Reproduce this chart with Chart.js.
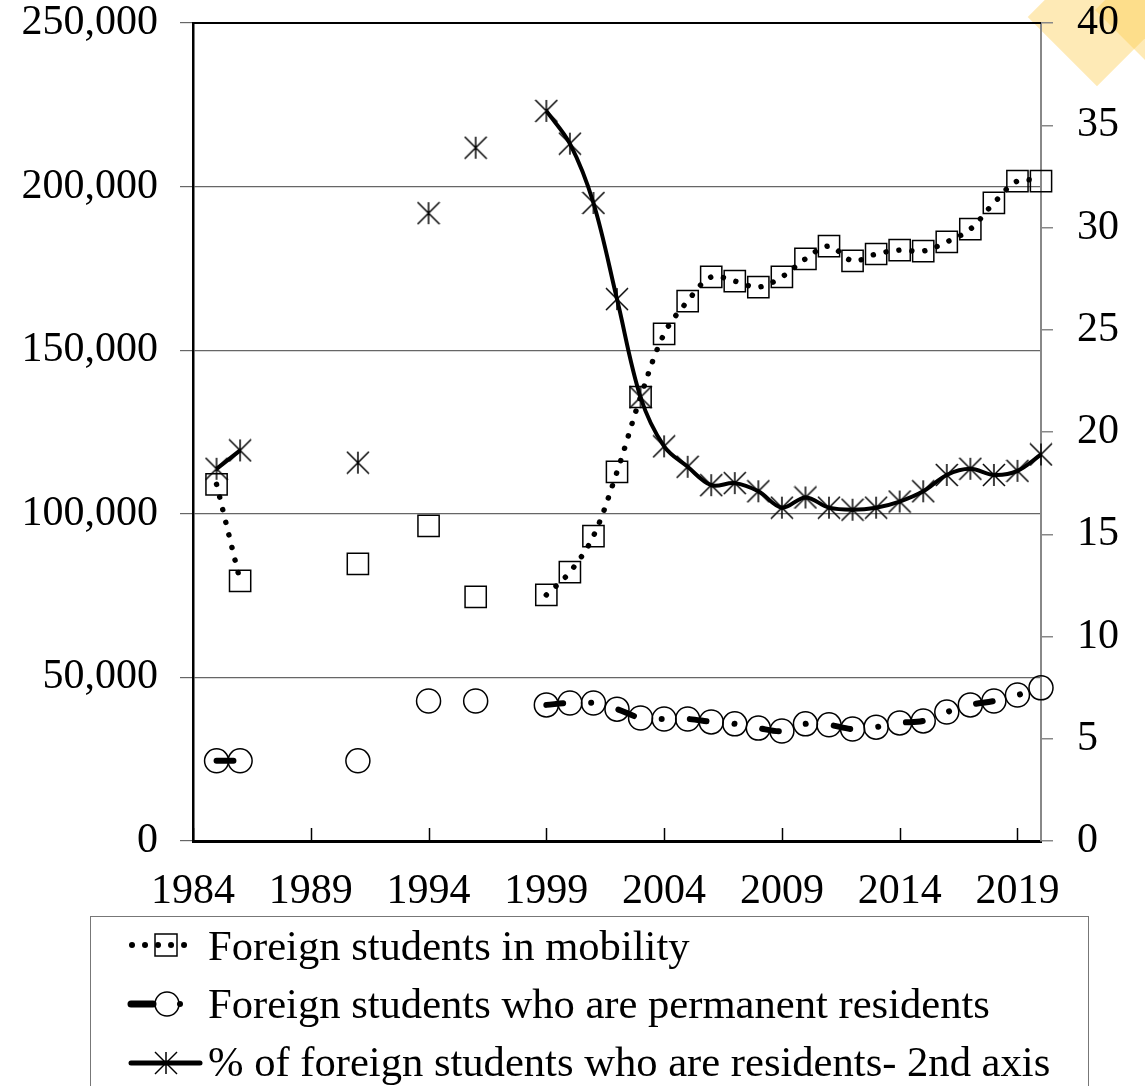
<!DOCTYPE html>
<html>
<head>
<meta charset="utf-8">
<script src="https://cdn.jsdelivr.net/npm/chart.js@4.4.0/dist/chart.umd.min.js"></script>
<style>
  body { margin: 0; background: #fff; width: 1145px; height: 1086px; overflow: hidden; position: relative;
         font-family: 'Liberation Serif', 'Times New Roman', serif; }
  .deco { position: absolute; background: rgba(253, 204, 80, 0.42); transform: rotate(45deg); z-index: 0; }
  #wrap { position: absolute; left: 0; top: 0; width: 1145px; height: 916px; z-index: 1; }
  #legend { position: absolute; left: 90px; top: 916px; width: 999px; height: 200px; border: 1.5px solid #777;
            box-sizing: border-box; z-index: 1; }
  .lg { position: absolute; left: 208px; font-size: 42.6px; line-height: 42px; white-space: nowrap; color: #000; z-index: 2; }
  #sym { position: absolute; left: 0; top: 0; z-index: 2; }
</style>
</head>
<body>
<div class="deco" style="left:1048px;top:-32px;width:98px;height:98px;"></div>
<div class="deco" style="left:1117px;top:-43px;width:106px;height:106px;"></div>
<div id="wrap"><canvas id="chart" width="1145" height="916"></canvas></div>
<div id="legend"></div>
<svg id="sym" width="1145" height="1086">
  <line x1="132" y1="945" x2="190" y2="945" stroke="#000" stroke-width="6" stroke-linecap="round" stroke-dasharray="0.01 13"/>
  <rect x="155" y="934" width="22" height="22" fill="none" stroke="#000" stroke-width="1.5"/>
  <line x1="131" y1="1004" x2="153" y2="1004" stroke="#000" stroke-width="7" stroke-linecap="round"/>
  <circle cx="167" cy="1004" r="12" fill="none" stroke="#000" stroke-width="1.5"/>
  <circle cx="180" cy="1004" r="3" fill="#000"/>
  <line x1="131" y1="1063" x2="200" y2="1063" stroke="#000" stroke-width="5" stroke-linecap="round"/>
  <g stroke="#000" stroke-width="1.5">
    <line x1="166" y1="1052" x2="166" y2="1074"/>
    <line x1="155" y1="1052" x2="177" y2="1074"/>
    <line x1="177" y1="1052" x2="155" y2="1074"/>
  </g>
</svg>
<div class="lg" style="top:925px;">Foreign students in mobility</div>
<div class="lg" style="top:983px;">Foreign students who are permanent residents</div>
<div class="lg" style="top:1041px;">% of foreign students who are residents- 2nd axis</div>
<script>
// data
const years = [1985, 1986, 1991, 1994, 1996,
  1999, 2000, 2001, 2002, 2003, 2004, 2005, 2006, 2007, 2008, 2009,
  2010, 2011, 2012, 2013, 2014, 2015, 2016, 2017, 2018, 2019, 2020];
const mobility = [109000, 79500, 84700, 96300, 74600,
  75200, 82200, 93200, 112800, 135700, 155000, 165000, 172400, 171100, 169300, 172400,
  177900, 181800, 177300, 179400, 180600, 180300, 183100, 187000, 195000, 201700, 201700];
const residents = [24500, 24500, 24500, 42800, 42800,
  41600, 42200, 42200, 40300, 37600, 37300, 37300, 36400, 35800, 34500, 33600,
  35800, 35500, 34200, 34800, 36100, 36700, 39400, 41600, 42800, 44600, 46800];
const residentShare = [18.2, 19.1, 18.5, 30.7, 33.9,
  35.7, 34.1, 31.2, 26.5, 21.7, 19.3, 18.3, 17.4, 17.5, 17.1, 16.3,
  16.8, 16.3, 16.2, 16.3, 16.6, 17.1, 17.9, 18.2, 17.9, 18.1, 18.9];
const xTicks = [1984, 1989, 1994, 1999, 2004, 2009, 2014, 2019];
const leftTicks = [0, 50000, 100000, 150000, 200000, 250000];
const rightTicks = [0, 5, 10, 15, 20, 25, 30, 35, 40];

const FONT = { family: "'Liberation Serif', 'Times New Roman', serif", size: 42, lineHeight: 1.1 };

// years with a hole before them break the line (isolated points stay unconnected)
function withGaps(values) {
  const out = [];
  years.forEach((yr, i) => {
    if (i > 0 && yr - years[i - 1] > 1) out.push({ x: yr - 0.5, y: null });
    out.push({ x: yr, y: values[i] });
  });
  return out;
}

// asterisk marker: vertical bar + X
const star = document.createElement('canvas');
star.width = 24; star.height = 24;
(function () {
  const c = star.getContext('2d');
  c.strokeStyle = '#000'; c.lineWidth = 1.5;
  c.beginPath();
  c.moveTo(12, 1); c.lineTo(12, 23);
  c.moveTo(1, 1); c.lineTo(23, 23);
  c.moveTo(23, 1); c.lineTo(1, 23);
  c.stroke();
})();

const frame = {
  id: 'frame',
  afterDatasetsDraw(chart) {
    const { ctx, chartArea: a, scales } = chart;
    ctx.save();
    ctx.strokeStyle = '#000';
    ctx.lineWidth = 2;
    ctx.beginPath();
    ctx.moveTo(a.left, a.top); ctx.lineTo(a.right, a.top);
    ctx.stroke();
    // x tick marks point up into the plot
    ctx.lineWidth = 1.5;
    xTicks.forEach(v => {
      const px = Math.round(scales.x.getPixelForValue(v)) + 0.5;
      ctx.beginPath();
      ctx.moveTo(px, a.bottom); ctx.lineTo(px, a.bottom - 13);
      ctx.stroke();
    });
    ctx.restore();
  }
};

new Chart(document.getElementById('chart').getContext('2d'), {
  type: 'line',
  data: {
    datasets: [
      {
        label: '% of foreign students who are residents- 2nd axis',
        data: withGaps(residentShare),
        yAxisID: 'y2',
        borderColor: '#000',
        borderWidth: 4,
        tension: 0.35,
        clip: false,
        pointStyle: star,
        pointRadius: 11
      },
      {
        label: 'Foreign students in mobility',
        data: withGaps(mobility),
        yAxisID: 'y',
        borderColor: '#000',
        borderWidth: 5.5,
        borderDash: [0.01, 13],
        borderCapStyle: 'round',
        tension: 0.35,
        clip: false,
        pointStyle: 'rect',
        pointRadius: 15,
        pointBorderWidth: 1.5,
        pointBorderColor: '#000',
        pointBackgroundColor: 'rgba(0,0,0,0)'
      },
      {
        label: 'Foreign students who are permanent residents',
        data: withGaps(residents),
        yAxisID: 'y',
        borderColor: '#000',
        borderWidth: 6,
        borderDash: [17, 28, 0.01, 28],
        borderCapStyle: 'round',
        tension: 0.35,
        clip: false,
        pointStyle: 'circle',
        pointRadius: 12,
        pointBorderWidth: 1.5,
        pointBorderColor: '#000',
        pointBackgroundColor: 'rgba(0,0,0,0)'
      }
    ]
  },
  options: {
    responsive: false,
    animation: false,
    spanGaps: false,
    layout: { padding: 0 },
    plugins: { legend: { display: false }, tooltip: { enabled: false } },
    scales: {
      x: {
        type: 'linear',
        min: 1984, max: 2020,
        afterBuildTicks: s => { s.ticks = xTicks.map(v => ({ value: v })); },
        afterFit: s => { s.height = 75; },
        grid: { display: false },
        border: { display: true, color: '#000', width: 3 },
        ticks: { font: FONT, color: '#000', padding: 20, maxRotation: 0, autoSkip: false, callback: v => String(v) }
      },
      y: {
        position: 'left',
        min: 0, max: 250000,
        afterBuildTicks: s => { s.ticks = leftTicks.map(v => ({ value: v })); },
        afterFit: s => { s.width = 193; s.paddingTop = 23; },
        grid: { color: '#666', lineWidth: 1.2, tickLength: 13 },
        border: { display: true, color: '#000', width: 2.5 },
        ticks: { font: FONT, color: '#000', padding: 22, callback: v => v.toLocaleString('en-US') }
      },
      y2: {
        position: 'right',
        min: 0, max: 40,
        afterBuildTicks: s => { s.ticks = rightTicks.map(v => ({ value: v })); },
        afterFit: s => { s.width = 104; s.paddingTop = 23; },
        grid: { drawOnChartArea: false, color: '#888', lineWidth: 1.5, tickLength: 12 },
        border: { display: true, color: '#888', width: 2 },
        ticks: { font: FONT, color: '#000', padding: 24 }
      }
    }
  },
  plugins: [frame]
});
</script>
</body>
</html>
